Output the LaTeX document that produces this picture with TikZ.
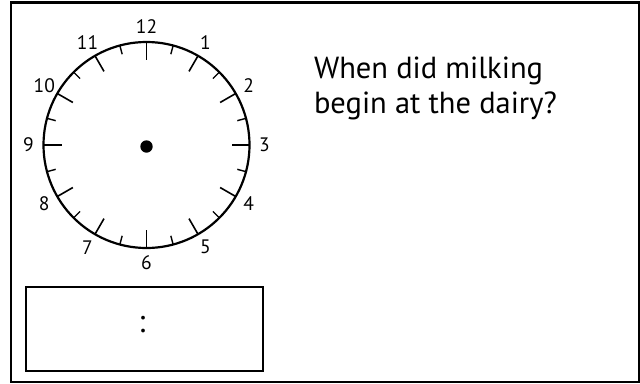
\documentclass[tikz,border=0pt]{standalone}
\usepackage{fontspec}
\setmainfont{PT Sans}
\usetikzlibrary{calc}
\begin{document}
\begin{tikzpicture}[x=1pt,y=-1pt,
  every node/.style={inner sep=0pt,outer sep=0pt},
  frame/.style={line width=2.2pt},
  hourtick/.style={line width=1.6pt},
  halftick/.style={line width=1.4pt},
  numlabel/.style={font=\fontsize{19.5}{22}\selectfont},
  question/.style={font=\fontsize{30.5}{34}\selectfont,anchor=base west}]
\useasboundingbox (0,0) rectangle (640,383);
\draw[frame] (11,2.5) rectangle (639,382);
\coordinate (c) at (146.5,145);
\draw[frame] (c) circle[radius=103pt];
\fill ($(c)+(0,1.5)$) circle[radius=6.2pt];
\foreach \i in {0,...,23} {
  \pgfmathsetmacro{\a}{-90+15*\i}
  \ifodd\i
    \draw[halftick] ($(c)+(\a:103)$) -- ($(c)+(\a:94)$);
  \else
    \draw[hourtick] ($(c)+(\a:103)$) -- ($(c)+(\a:85)$);
  \fi
}
\foreach \h in {1,...,12} {
  \pgfmathsetmacro{\a}{-90+30*\h}
  \node[numlabel] (n\h) at ($(c)+(\a:118)$) {\h};
}
\node[question] (q1) at (314,78.3) {When did milking};
\node[question] (q2) at (314,113.3) {begin at the dairy?};
\draw[frame] (26,287) rectangle (263,371);
\node[font=\fontsize{32}{34}\selectfont] (colon) at (142,325) {:};
\end{tikzpicture}
\end{document}
